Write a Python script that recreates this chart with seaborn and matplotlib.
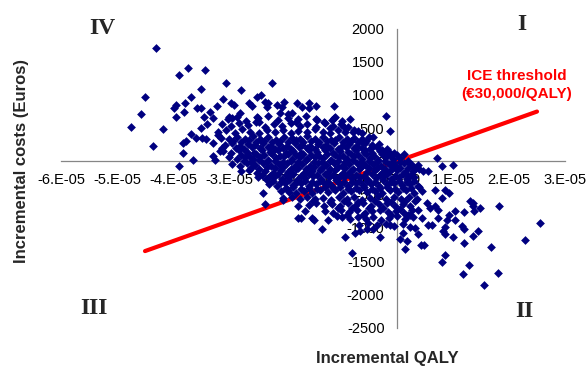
import matplotlib
matplotlib.use('Agg')
import matplotlib.pyplot as plt
from matplotlib.ticker import FixedLocator, FuncFormatter
import seaborn as sns
import pandas as pd

sns.set_style('white')
plt.rcParams['font.family'] = ['Liberation Sans', 'DejaVu Sans']
plt.rcParams['axes.unicode_minus'] = False

NAVY = '#000080'
RED = '#ff0000'

# bootstrap replicates, x = incremental QALY in units of 1E-05, y = incremental cost (EUR)
# scattered points around the main cloud
sparse_pts = [
    (-4.30, 1701), (-3.74, 1410), (-3.89, 1296), (-3.42, 1376), (-4.50, 975),
    (-4.57, 711), (-4.75, 520), (-4.18, 486), (-4.36, 236), (-3.50, 1090),
    (-3.68, 975), (-3.95, 850), (-3.98, 800), (-3.79, 876), (-3.95, 675),
    (-3.80, 740), (-3.58, 810), (-3.50, 810), (-3.45, 675), (-3.34, 750),
    (-3.28, 650), (-3.40, 560), (-3.50, 500), (-3.68, 410), (-3.59, 350),
    (-3.49, 350), (-3.41, 340), (-3.77, 300), (-3.83, 270), (-3.83, 125),
    (-3.64, 25), (-3.89, -75), (-3.20, 400), (-3.28, 275), (-3.22, 840),
    (-3.11, 940), (-3.05, 1175), (-2.78, 1075), (-2.97, 875), (-2.91, 850),
    (-3.00, 675), (-2.95, 650), (-2.80, 725), (-2.64, 875), (-2.59, 840),
    (-2.50, 975), (-3.16, 150), (-3.13, 200), (-3.29, 75), (-3.25, 25),
    (-2.24, 1175), (-2.43, 1000), (-2.36, 900), (-2.30, 875), (-2.33, 825),
    (-2.15, 850), (-2.01, 900), (-2.06, 825), (-1.79, 885), (-1.70, 825),
    (-1.58, 875), (-1.58, 800), (-1.45, 835), (-1.12, 835), (-1.87, 735),
    (-1.94, 715), (-2.09, 735), (-1.77, 635), (-1.43, 625), (-1.11, 675),
    (-1.16, 625), (-0.84, 635), (-0.94, 515), (-1.20, 500), (-0.78, 435),
    (-0.69, 450), (-0.20, 685), (-0.13, 450), (-0.42, 365), (-0.63, 285),
    (-0.45, 215), (-0.27, 175), (-0.18, 185), (-0.13, 125), (-0.57, 175),
    (-0.75, 200), (-2.50, 675), (-2.47, 600),
]

# right-hand / lower tail
tail_pts = [
    (0.13, 115), (0.71, 50), (0.80, -65), (1.00, -50), (0.38, -50),
    (0.23, -35), (0.47, -150), (0.56, -150), (0.20, -225), (0.68, -425),
    (0.86, -425), (0.92, -475), (0.80, -550), (1.30, -600), (1.36, -625),
    (1.35, -665), (1.48, -700), (1.38, -750), (1.82, -665), (1.19, -765),
    (1.04, -750), (0.92, -800), (0.74, -725), (0.68, -675), (0.59, -700),
    (0.53, -625), (0.32, -600), (0.38, -725), (0.23, -800), (0.44, -850),
    (0.74, -850), (0.89, -885), (1.04, -875), (0.56, -950), (0.62, -950),
    (0.23, -985), (0.86, -985), (1.16, -965), (1.19, -1025), (0.83, -1050),
    (0.85, -1100), (1.00, -1135), (0.38, -1100), (1.45, -1050), (1.36, -1125),
    (2.55, -925), (2.29, -1185), (1.67, -1285), (1.19, -1225), (0.17, -1200),
    (0.15, -1325), (0.43, -1265), (0.49, -1265), (0.85, -1415), (0.80, -1515),
    (1.29, -1565), (1.18, -1700), (1.81, -1675), (1.55, -1860),
    (-2.39, -475), (-2.36, -635), (-2.03, -585), (-1.92, -465), (-1.76, -675),
    (-1.64, -750), (-1.71, -850), (-1.49, -875), (-1.34, -1025), (-1.23, -875),
    (-1.08, -825), (-0.93, -1135), (-0.75, -1075), (-0.66, -1050), (-0.54, -1025),
    (-0.42, -1025), (-0.30, -1135), (-0.81, -1385), (0.11, -1075), (0.05, -1175),
    (-2.03, -550), (-1.77, -850), (0.32, -1000), (-0.13, -950), (-1.52, -850),
]

# dense central cloud, upper half
core_upper = [
    (-3.02, 640), (-2.85, 670), (-2.70, 610), (-2.48, 655), (-2.30, 690), (-2.12, 620),
    (-1.95, 660), (-1.80, 600), (-1.62, 680), (-1.45, 640), (-1.30, 590), (-1.12, 660),
    (-0.98, 610),
    (-3.12, 560), (-2.96, 530), (-2.82, 575), (-2.66, 545), (-2.52, 590), (-2.35, 520),
    (-2.20, 565), (-2.05, 540), (-1.90, 585), (-1.74, 530), (-1.60, 560), (-1.44, 520),
    (-1.28, 575), (-1.15, 540), (-1.00, 560), (-0.88, 520),
    (-3.20, 440), (-3.05, 470), (-2.90, 430), (-2.76, 480), (-2.62, 445), (-2.47, 420),
    (-2.33, 470), (-2.18, 440), (-2.04, 475), (-1.90, 425), (-1.76, 460), (-1.61, 435),
    (-1.47, 480), (-1.33, 445), (-1.20, 420), (-1.05, 465), (-0.92, 440), (-0.77, 470),
    (-0.62, 430),
    (-3.15, 350), (-3.00, 330), (-2.86, 370), (-2.72, 340), (-2.58, 375), (-2.44, 330),
    (-2.30, 360), (-2.16, 325), (-2.02, 370), (-1.88, 345), (-1.73, 330), (-1.60, 375),
    (-1.46, 340), (-1.32, 360), (-1.18, 325), (-1.04, 370), (-0.90, 340), (-0.76, 355),
    (-0.62, 330), (-0.50, 365),
    (-2.93, 300), (-2.79, 285), (-2.65, 315), (-2.51, 295), (-2.37, 310), (-2.23, 290),
    (-2.09, 305), (-1.95, 285), (-1.81, 315), (-1.67, 295), (-1.53, 310), (-1.39, 285),
    (-1.25, 300), (-1.11, 315), (-0.97, 290), (-0.83, 305), (-0.69, 285), (-0.55, 310),
    (-3.08, 250), (-2.94, 270), (-2.80, 230), (-2.66, 260), (-2.53, 240), (-2.39, 275),
    (-2.25, 235), (-2.11, 260), (-1.97, 230), (-1.83, 270), (-1.69, 245), (-1.55, 225),
    (-1.41, 265), (-1.27, 240), (-1.13, 270), (-0.99, 230), (-0.85, 255), (-0.71, 235),
    (-0.57, 270), (-0.44, 240), (-0.32, 260),
    (-2.87, 200), (-2.73, 185), (-2.59, 215), (-2.45, 195), (-2.31, 210), (-2.17, 185),
    (-2.03, 205), (-1.89, 190), (-1.75, 215), (-1.61, 195), (-1.47, 185), (-1.33, 210),
    (-1.19, 200), (-1.05, 185), (-0.91, 215), (-0.77, 195), (-0.63, 205), (-0.49, 185),
    (-0.35, 210),
    (-3.10, 160), (-2.96, 130), (-2.82, 170), (-2.68, 145), (-2.55, 125), (-2.41, 165),
    (-2.27, 140), (-2.13, 170), (-1.99, 130), (-1.85, 155), (-1.71, 125), (-1.57, 165),
    (-1.43, 140), (-1.29, 170), (-1.15, 130), (-1.01, 160), (-0.87, 135), (-0.73, 170),
    (-0.59, 145), (-0.45, 125), (-0.31, 160), (-0.17, 140), (-0.06, 120),
    (-2.79, 100), (-2.65, 85), (-2.51, 115), (-2.37, 95), (-2.23, 110), (-2.09, 85),
    (-1.95, 105), (-1.81, 90), (-1.67, 115), (-1.53, 95), (-1.39, 85), (-1.25, 110),
    (-1.11, 100), (-0.97, 85), (-0.83, 115), (-0.69, 95), (-0.55, 105), (-0.41, 85),
    (-0.27, 110), (-0.13, 95), (0.00, 90),
    (-3.00, 60), (-2.86, 30), (-2.72, 70), (-2.58, 40), (-2.44, 65), (-2.30, 25),
    (-2.16, 55), (-2.02, 80), (-1.88, 35), (-1.74, 60), (-1.60, 30), (-1.46, 70),
    (-1.32, 45), (-1.18, 20), (-1.04, 65), (-0.90, 40), (-0.76, 75), (-0.62, 35),
    (-0.48, 55), (-0.34, 25), (-0.20, 65), (-0.07, 40), (0.06, 55),
    (-2.74, 0), (-2.60, -15), (-2.46, 15), (-2.32, -5), (-2.18, 10), (-2.04, -15),
    (-1.90, 5), (-1.76, -10), (-1.62, 15), (-1.48, -5), (-1.34, -15), (-1.20, 10),
    (-1.06, 0), (-0.92, -15), (-0.78, 15), (-0.64, -5), (-0.50, 5), (-0.36, -15),
    (-0.22, 10), (-0.08, -5), (0.06, -10), (0.20, 5),
]

# dense central cloud, lower half
core_lower = [
    (-2.95, -40), (-2.81, -70), (-2.67, -30), (-2.53, -60), (-2.39, -25), (-2.25, -75),
    (-2.11, -45), (-1.97, -20), (-1.83, -65), (-1.69, -40), (-1.55, -75), (-1.41, -30),
    (-1.27, -55), (-1.13, -25), (-0.99, -70), (-0.85, -45), (-0.71, -20), (-0.57, -60),
    (-0.43, -35), (-0.29, -75), (-0.15, -40), (-0.02, -65), (0.12, -30), (0.26, -55),
    (-2.60, -100), (-2.46, -115), (-2.32, -85), (-2.18, -105), (-2.04, -90), (-1.90, -115),
    (-1.76, -95), (-1.62, -110), (-1.48, -85), (-1.34, -105), (-1.20, -115), (-1.06, -90),
    (-0.92, -100), (-0.78, -115), (-0.64, -85), (-0.50, -105), (-0.36, -95), (-0.22, -115),
    (-0.08, -90), (0.06, -105), (0.20, -95), (0.33, -110),
    (-2.78, -150), (-2.64, -125), (-2.50, -170), (-2.36, -140), (-2.22, -175), (-2.08, -130),
    (-1.94, -160), (-1.80, -120), (-1.66, -170), (-1.52, -145), (-1.38, -125), (-1.24, -165),
    (-1.10, -135), (-0.96, -175), (-0.82, -150), (-0.68, -120), (-0.54, -160), (-0.40, -135),
    (-0.26, -170), (-0.12, -140), (0.00, -125), (0.14, -165), (0.28, -140), (0.40, -120),
    (-2.41, -200), (-2.27, -215), (-2.13, -185), (-1.99, -205), (-1.85, -190), (-1.71, -215),
    (-1.57, -195), (-1.43, -210), (-1.29, -185), (-1.15, -205), (-1.01, -215), (-0.87, -190),
    (-0.73, -200), (-0.59, -215), (-0.45, -185), (-0.31, -205), (-0.17, -195), (-0.03, -215),
    (0.11, -190), (0.25, -205),
    (-2.48, -240), (-2.34, -270), (-2.20, -230), (-2.06, -260), (-1.92, -235), (-1.78, -275),
    (-1.64, -245), (-1.50, -225), (-1.36, -265), (-1.22, -240), (-1.08, -270), (-0.94, -230),
    (-0.80, -255), (-0.66, -235), (-0.52, -275), (-0.38, -245), (-0.24, -225), (-0.10, -265),
    (0.03, -240), (0.17, -270), (0.31, -230),
    (-2.21, -300), (-2.07, -315), (-1.93, -285), (-1.79, -305), (-1.65, -290), (-1.51, -315),
    (-1.37, -295), (-1.23, -310), (-1.09, -285), (-0.95, -305), (-0.81, -315), (-0.67, -290),
    (-0.53, -300), (-0.39, -315), (-0.25, -285), (-0.11, -305), (0.03, -295), (0.17, -310),
    (0.31, -290),
    (-2.28, -340), (-2.14, -370), (-2.00, -330), (-1.86, -360), (-1.72, -325), (-1.58, -375),
    (-1.44, -345), (-1.30, -330), (-1.16, -365), (-1.02, -340), (-0.88, -375), (-0.74, -330),
    (-0.60, -355), (-0.46, -335), (-0.32, -370), (-0.18, -345), (-0.05, -325), (0.09, -360),
    (0.23, -340), (0.37, -370),
    (-1.99, -400), (-1.85, -385), (-1.71, -415), (-1.57, -395), (-1.43, -410), (-1.29, -385),
    (-1.15, -405), (-1.01, -390), (-0.87, -415), (-0.73, -395), (-0.59, -385), (-0.45, -410),
    (-0.31, -400), (-0.17, -385), (-0.03, -415), (0.11, -395), (0.25, -405), (0.39, -390),
    (-2.08, -450), (-1.94, -430), (-1.80, -470), (-1.66, -440), (-1.52, -475), (-1.38, -425),
    (-1.24, -460), (-1.10, -435), (-0.96, -470), (-0.82, -445), (-0.68, -425), (-0.54, -465),
    (-0.40, -440), (-0.26, -475), (-0.12, -430), (0.02, -455), (0.16, -425), (0.30, -470),
    (0.44, -445),
    (-1.88, -540), (-1.74, -570), (-1.60, -530), (-1.46, -565), (-1.32, -545), (-1.18, -575),
    (-1.04, -530), (-0.90, -560), (-0.76, -535), (-0.62, -575), (-0.48, -545), (-0.34, -525),
    (-0.20, -565), (-0.06, -540), (0.08, -570), (0.22, -530), (0.36, -560),
    (-1.50, -600), (-1.20, -610), (-0.95, -595), (-0.70, -605), (-0.40, -600), (-0.10, -610),
    (0.15, -595),
    (-1.58, -650), (-1.44, -625), (-1.30, -670), (-1.16, -640), (-1.02, -675), (-0.88, -630),
    (-0.74, -660), (-0.60, -625), (-0.46, -670), (-0.32, -645), (-0.18, -625), (-0.04, -665),
    (0.10, -640), (0.24, -670),
    (-1.05, -700), (-0.80, -705), (-0.50, -695), (-0.25, -700), (0.05, -710),
    (-1.28, -740), (-1.14, -770), (-1.00, -730), (-0.86, -760), (-0.72, -735), (-0.58, -775),
    (-0.44, -745), (-0.30, -725), (-0.16, -765), (-0.02, -740), (0.12, -770), (0.26, -730),
    (0.20, -800), (-0.10, -800), (-0.60, -810), (-0.90, -800),
    (-0.98, -840), (-0.84, -870), (-0.70, -830), (-0.56, -860), (-0.42, -835), (-0.28, -875),
    (-0.14, -845), (0.00, -825), (0.14, -865), (0.28, -840),
    (-0.68, -950), (-0.52, -925), (-0.36, -960), (-0.20, -935), (-0.05, -970), (0.10, -940),
]

# ICE threshold line (30,000 EUR per QALY as drawn)
thresh_x = [-4.5, 2.5]
thresh_y = [-1350, 750]

x_ticks = [-6, -5, -4, -3, -2, -1, 0, 1, 2, 3]
y_ticks = [-2500, -2000, -1500, -1000, -500, 0, 500, 1000, 1500, 2000]

pts = sparse_pts + tail_pts + core_upper + core_lower
df = pd.DataFrame(pts, columns=['qaly', 'cost'])
df['qaly'] = df['qaly'] * 1e-5
line_df = pd.DataFrame({'qaly': [v * 1e-5 for v in thresh_x], 'cost': thresh_y})

fig = plt.figure(figsize=(5.88, 3.68), dpi=100)
ax = fig.add_axes([61 / 588, 1 - 327.5 / 368, 504 / 588, 299 / 368])
ax.set_axisbelow(True)

sns.lineplot(data=line_df, x='qaly', y='cost', ax=ax, color=RED, linewidth=3,
             solid_capstyle='round', zorder=0.9)
sns.scatterplot(data=df, x='qaly', y='cost', ax=ax, marker='D', s=20,
                color=NAVY, linewidth=0, zorder=1)

ax.set_xlim(-6e-5, 3e-5)
ax.set_ylim(-2500, 2000)
ax.xaxis.set_major_locator(FixedLocator([t * 1e-5 for t in x_ticks]))
ax.yaxis.set_major_locator(FixedLocator(y_ticks))


def excel_sci(v, pos):
    m, e = f'{v:.0E}'.split('E')
    return f'{m}.E{e}'


ax.xaxis.set_major_formatter(FuncFormatter(excel_sci))
ax.set_xlabel('')
ax.set_ylabel('')

for side in ['top', 'right']:
    ax.spines[side].set_visible(False)
ax.spines['left'].set_position(('data', 0))
ax.spines['bottom'].set_position(('data', 0))
for side in ['left', 'bottom']:
    ax.spines[side].set_color('#868686')
    ax.spines[side].set_linewidth(0.9)
    ax.spines[side].set_zorder(0.6)

ax.tick_params(axis='both', direction='out', length=4, width=0.9, color='#868686',
               labelsize=10.5, labelcolor='black')
ax.tick_params(axis='x', pad=4)
ax.tick_params(axis='y', pad=5)
ax.grid(False)

fig.text(21.5 / 588, 1 - 161 / 368, 'Incremental costs (Euros)', rotation=90,
         ha='center', va='center', fontsize=12, fontweight='bold')
fig.text(387 / 588, 1 - 359 / 368, 'Incremental QALY', ha='center', va='center',
         fontsize=12, fontweight='bold')

quad_font = dict(family='Liberation Serif', fontweight='bold', fontsize=17,
                 ha='center', va='center')
fig.text(102.5 / 588, 1 - 28.7 / 368, 'IV', **quad_font)
fig.text(521.3 / 588, 1 - 24.5 / 368, 'I', **quad_font)
fig.text(94 / 588, 1 - 309 / 368, 'III', **quad_font)
fig.text(524.7 / 588, 1 - 311.5 / 368, 'II', **quad_font)

fig.text(517 / 588, 1 - 85 / 368, 'ICE threshold\n(€30,000/QALY)', color=RED,
         ha='center', va='center', fontsize=11, fontweight='bold', linespacing=1.3)

fig.savefig('out.png', dpi=100)
